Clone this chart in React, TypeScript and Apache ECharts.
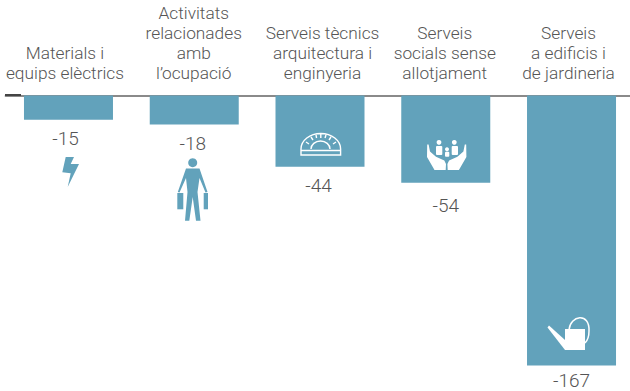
import React, { useEffect, useRef } from "react";
import * as echarts from "echarts";

const categories = [
  "Materials i\nequips elèctrics",
  "Activitats\nrelacionades\namb\nl’ocupació",
  "Serveis tècnics\narquitectura i\nenginyeria",
  "Serveis\nsocials sense\nallotjament",
  "Serveis\na edificis i\nde jardineria",
];
const values = [-15, -18, -44, -54, -167];

const BLUE = "#62a2bb";
const TEXT = "#555555";
const FONT = "Roboto";
const labelGaps = [9, 9, 9, 13, 6];
const labelShifts = [-3, -1.5, -1.5, 0, 0];
const axisPadding = [
  [0, 7, 0, 0],
  [0, 1, 0, 0],
  [0, 0, 0, 5],
  [0, 2, 0, 0],
  [0, 6, 0, 0],
];

const protractorPath =
  "M301,155 L301,149 A19.8,15.5 0 0 1 340.6,149 L340.6,155 Z M301,150.5 L340.6,150.5 " +
  "M311,149 A9.5,8 0 0 1 330,149 " +
  "M306,142 L309,144 M311,137 L313,140 M320.8,134 L320.8,138 M331,137 L329,140 M336,142 L333,144 M316,135 L316.6,138 M326,135 L325,138";
const handPathL = "M427.2,144.5 L428.6,144.5 L430,151.5 L436,156.7 L444.3,160.5 L446,164 L445.7,170 L434.5,170 L427,157 Z";
const handPathR = "M466.2,144.5 L464.8,144.5 L463.4,151.5 L457.4,156.7 L449.1,160.5 L447.4,164 L447.7,170 L458.9,170 L466.4,157 Z";
const handlePath = "M569,330 C570,315 590,312 589,331 C589,337 587,341 585,343";

echarts.graphic.registerShape("protractorIcon", (echarts.graphic as any).extendPath(protractorPath, {}));
echarts.graphic.registerShape("handLeftIcon", (echarts.graphic as any).extendPath(handPathL, {}));
echarts.graphic.registerShape("handRightIcon", (echarts.graphic as any).extendPath(handPathR, {}));
echarts.graphic.registerShape("canHandleIcon", (echarts.graphic as any).extendPath(handlePath, {}));

export default function App() {
  const ref = useRef<HTMLDivElement>(null);
  useEffect(() => {
    document.body.style.margin = "0";
    const chart = echarts.init(ref.current!, undefined, { renderer: "svg" });
    const strokeShape = (name: string, lw = 1.4) => ({
      type: name, z: 10, style: { fill: "none", stroke: "#fff", lineWidth: lw },
    });
    const fillShape = (name: string) => ({ type: name, z: 10, style: { fill: "#fff" } });
    const rect = (x: number, y: number, w: number, h: number, fill: string, r = 0) => ({
      type: "rect", z: 10, shape: { x, y, width: w, height: h, r }, style: { fill },
    });
    const circle = (cx: number, cy: number, r: number, fill: string) => ({
      type: "circle", z: 10, shape: { cx, cy, r }, style: { fill },
    });
    const poly = (points: number[][], fill: string) => ({
      type: "polygon", z: 10, shape: { points }, style: { fill },
    });
    const rich: Record<string, any> = {};
    axisPadding.forEach((padding, i) => {
      rich["s" + i] = { color: TEXT, fontFamily: FONT, fontWeight: 300, fontSize: 17.3, lineHeight: 20, padding };
    });
    chart.setOption({
      animation: false,
      grid: { left: 5.6, width: 628.8, top: 95.5, height: 291, outerBoundsMode: "none" },
      xAxis: {
        type: "category",
        position: "top",
        data: categories,
        axisLine: { lineStyle: { color: "#8a8a8a", width: 2 } },
        axisTick: { show: false },
        axisLabel: {
          color: TEXT,
          fontFamily: FONT,
          fontWeight: 300,
          fontSize: 17.3,
          lineHeight: 20,
          margin: 13,
          interval: 0,
          formatter: (v: string, i: number) =>
            v.split("\n").map((l) => `{s${i}|${l}}`).join("\n"),
          rich,
        },
      },
      yAxis: { type: "value", min: -180, max: 0, show: false },
      series: [
        {
          type: "bar",
          data: values.map((value, i) => ({
            value,
            label: { distance: labelGaps[i], offset: [labelShifts[i], 0] },
          })),
          barWidth: 89,
          itemStyle: { color: BLUE },
          label: {
            show: true,
            position: "bottom",
            color: TEXT,
            fontFamily: FONT,
            fontWeight: 300,
            fontSize: 19,
          },
        },
      ],
      graphic: [
        { type: "line", z: 11, shape: { x1: 5, y1: 95, x2: 21, y2: 95 }, style: { stroke: "#444", lineWidth: 2 } },
        poly([[65.7,157],[74,157],[70.7,164],[79,164],[67.7,187],[70.7,173.3],[62.3,172.3]], BLUE),
        circle(192.7, 162.7, 4.5, BLUE),
        poly([[186,168.5],[199.5,168.5],[207.5,192],[205.5,192.5],[199.5,178],[197.5,192],[200.5,220.7],[196,220.7],[192.7,197],[189.3,220.7],[185,220.7],[187.5,192],[186,178],[179.5,192.5],[177.8,192]], BLUE),
        rect(177.3, 193, 6, 16.3, BLUE),
        rect(203.7, 193, 4.3, 16.3, BLUE),
        strokeShape("protractorIcon"),
        circle(439, 142.3, 2.4, "#fff"),
        circle(454.3, 142.3, 2.4, "#fff"),
        circle(447, 149.3, 2, "#fff"),
        rect(436, 146, 6.3, 9, "#fff", 1),
        rect(451.7, 146, 6.3, 9, "#fff", 1),
        rect(445, 151.7, 4.3, 5, "#fff", 1),
        fillShape("handLeftIcon"),
        fillShape("handRightIcon"),
        rect(565, 329, 20, 21, "#fff"),
        poly([[547.5,327.5],[549,325.5],[565,340],[565,350]], "#fff"),
        strokeShape("canHandleIcon", 1.5),
      ],
    });
    return () => chart.dispose();
  }, []);
  return <div ref={ref} style={{ width: 630, height: 391 }} />;
}
